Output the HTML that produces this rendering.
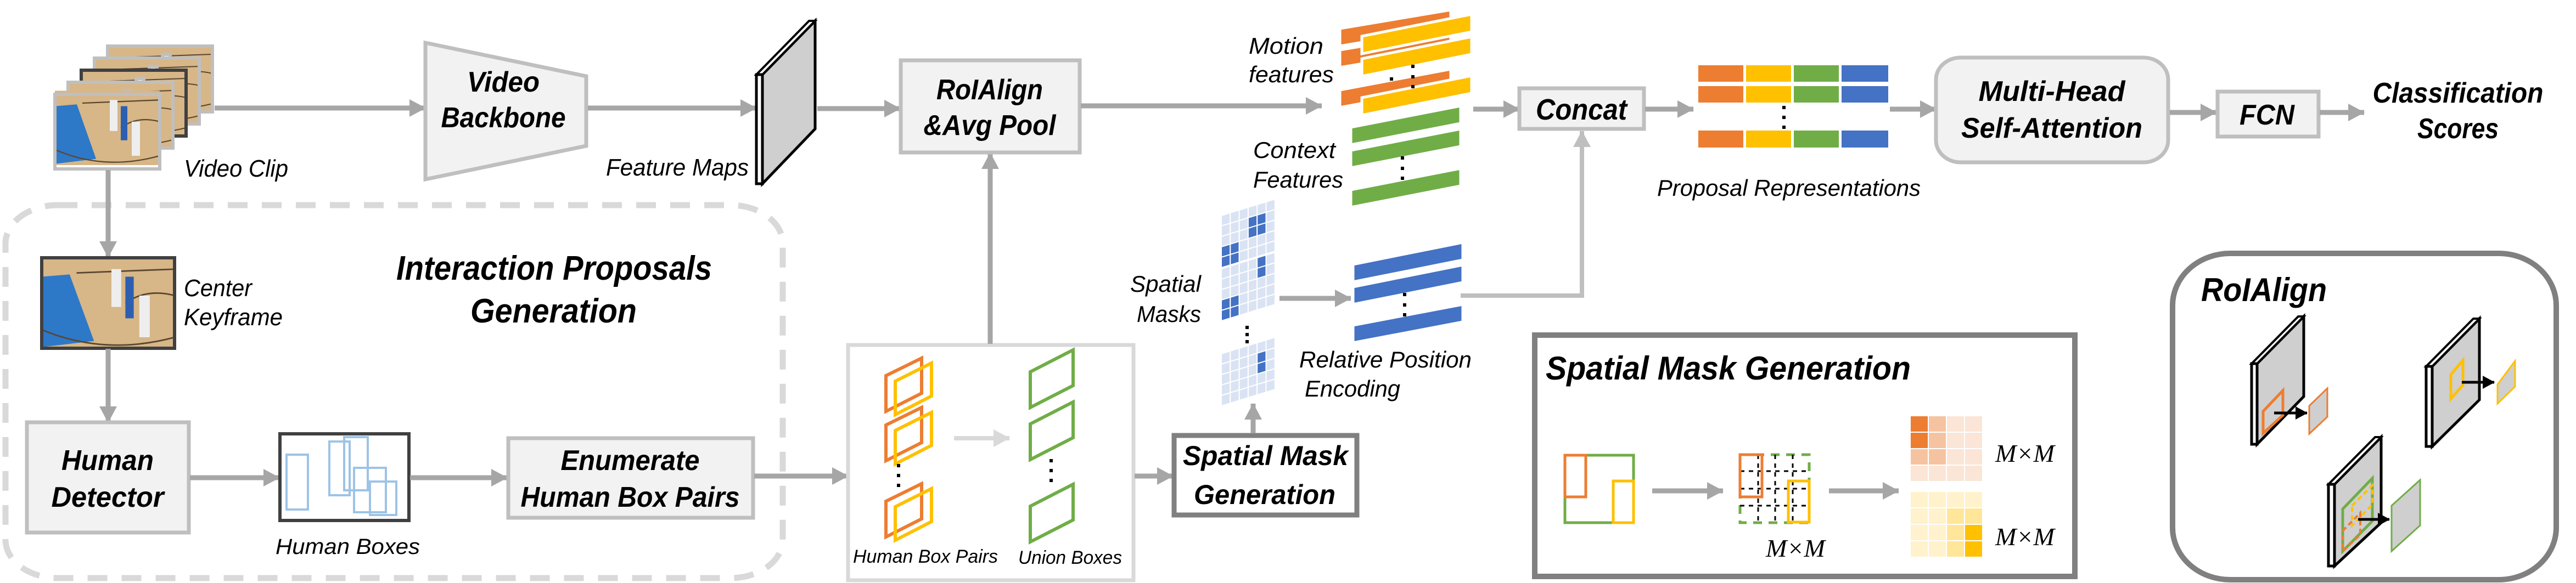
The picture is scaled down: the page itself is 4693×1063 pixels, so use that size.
<!DOCTYPE html>
<html><head><meta charset="utf-8"><style>
html,body{margin:0;padding:0;background:#fff;}
svg{display:block;}
text{font-family:"Liberation Sans",sans-serif;}
.b{font-weight:bold;font-style:italic;}
.i{font-style:italic;}
.m{font-family:"Liberation Serif",serif;font-style:italic;}
</style></head><body>
<svg width="4693" height="1063" viewBox="0 0 4693 1063" xmlns="http://www.w3.org/2000/svg">
<defs>
<marker id="a" markerUnits="userSpaceOnUse" markerWidth="30" markerHeight="32" refX="29" refY="16" orient="auto"><path d="M0,0 L30,16 L0,32 z" fill="#a6a6a6"/></marker>
<marker id="al" markerUnits="userSpaceOnUse" markerWidth="30" markerHeight="32" refX="29" refY="16" orient="auto"><path d="M0,0 L30,16 L0,32 z" fill="#d9d9d9"/></marker>
<marker id="ag" markerUnits="userSpaceOnUse" markerWidth="30" markerHeight="32" refX="29" refY="16" orient="auto"><path d="M0,0 L30,16 L0,32 z" fill="#bfbfbf"/></marker>
<marker id="ak" markerUnits="userSpaceOnUse" markerWidth="22" markerHeight="24" refX="21" refY="12" orient="auto"><path d="M0,0 L22,12 L0,24 z" fill="#000"/></marker>
<g id="frame">
<rect x="0" y="0" width="191" height="120" fill="#d7b687"/>
<polygon points="0,25 40,22 75,110 0,118" fill="#2e78c8"/>
<path d="M0,95 Q90,130 191,105 M50,20 L191,15 M120,60 Q150,40 191,50" stroke="#5a4630" stroke-width="2" fill="none"/>
<rect x="100" y="15" width="14" height="50" fill="#eee"/><rect x="120" y="25" width="12" height="55" fill="#2d5fb0"/><rect x="140" y="50" width="15" height="55" fill="#eee"/>
</g>
</defs>

<!-- dashed region -->
<rect x="10" y="374" width="1416" height="680" rx="95" ry="70" fill="none" stroke="#d9d9d9" stroke-width="11" stroke-dasharray="36,26"/>

<!-- video clip frames -->
<g stroke="#bfbfbf" stroke-width="6">
<use href="#frame" x="196" y="84"/><rect x="196" y="84" width="191" height="120" fill="none"/>
<use href="#frame" x="172" y="106"/><rect x="172" y="106" width="191" height="120" fill="none"/>
<use href="#frame" x="148" y="128"/><rect x="148" y="128" width="191" height="120" fill="none" stroke="#404040"/>
<use href="#frame" x="124" y="150"/><rect x="124" y="150" width="191" height="120" fill="none"/>
<use href="#frame" x="100" y="172"/><rect x="100" y="172" width="191" height="136" fill="none"/>
</g>
<use href="#frame" x="100" y="172" transform="translate(0,-29) scale(1,1.13) translate(0,0)"/>
<rect x="100" y="172" width="191" height="136" fill="none" stroke="#bfbfbf" stroke-width="6"/>
<text x="335" y="322" class="i" font-size="44" textLength="190" lengthAdjust="spacingAndGlyphs">Video Clip</text>

<line x1="391" y1="197" x2="775" y2="197" stroke="#a6a6a6" stroke-width="9" marker-end="url(#a)"/>
<polygon points="775,78 1068,139 1068,266 775,327" fill="#f2f2f2" stroke="#bfbfbf" stroke-width="7"/>
<text x="917" y="167" class="b" font-size="52" text-anchor="middle" textLength="132" lengthAdjust="spacingAndGlyphs">Video</text>
<text x="917" y="232" class="b" font-size="52" text-anchor="middle" textLength="227" lengthAdjust="spacingAndGlyphs">Backbone</text>
<line x1="1071" y1="197" x2="1378" y2="197" stroke="#a6a6a6" stroke-width="9" marker-end="url(#a)"/>
<!-- feature map -->
<polygon points="1389,136 1485,38 1485,235 1389,335" fill="#cfcfcf" stroke="#000" stroke-width="5"/>
<polygon points="1378,136 1389,136 1485,38 1474,38" fill="#fff" stroke="#000" stroke-width="4"/>
<rect x="1378" y="136" width="11" height="199" fill="#fff" stroke="#000" stroke-width="5"/>
<text x="1364" y="320" class="i" font-size="44" text-anchor="end" textLength="260" lengthAdjust="spacingAndGlyphs">Feature Maps</text>
<line x1="1489" y1="198" x2="1640" y2="198" stroke="#a6a6a6" stroke-width="9" marker-end="url(#a)"/>

<!-- vertical arrows left -->
<line x1="197" y1="310" x2="197" y2="469" stroke="#a6a6a6" stroke-width="9" marker-end="url(#a)"/>
<use href="#frame" x="76" y="470" transform="translate(76,470) scale(1.27,1.38) translate(-76,-470)"/>
<rect x="76" y="470" width="242" height="165" fill="none" stroke="#404040" stroke-width="6"/>
<text x="335" y="540" class="i" font-size="44" textLength="124" lengthAdjust="spacingAndGlyphs">Center</text>
<text x="335" y="593" class="i" font-size="44" textLength="180" lengthAdjust="spacingAndGlyphs">Keyframe</text>
<text x="722" y="510" class="b" font-size="62" textLength="575" lengthAdjust="spacingAndGlyphs">Interaction Proposals</text>
<text x="857" y="588" class="b" font-size="62" textLength="303" lengthAdjust="spacingAndGlyphs">Generation</text>
<line x1="197" y1="636" x2="197" y2="770" stroke="#a6a6a6" stroke-width="9" marker-end="url(#a)"/>

<rect x="49" y="770" width="295" height="201" fill="#f2f2f2" stroke="#bfbfbf" stroke-width="7"/>
<text x="196" y="857" class="b" font-size="52" text-anchor="middle" textLength="168" lengthAdjust="spacingAndGlyphs">Human</text>
<text x="196" y="924" class="b" font-size="52" text-anchor="middle" textLength="205" lengthAdjust="spacingAndGlyphs">Detector</text>
<line x1="346" y1="871" x2="509" y2="871" stroke="#a6a6a6" stroke-width="9" marker-end="url(#a)"/>
<rect x="510" y="791" width="235" height="158" fill="#fff" stroke="#404040" stroke-width="6"/>
<g fill="none" stroke="#9dc3e6" stroke-width="4">
<rect x="522" y="829" width="39" height="100"/><rect x="600" y="805" width="37" height="98"/><rect x="627" y="797" width="43" height="97"/><rect x="645" y="853" width="58" height="81"/><rect x="674" y="878" width="48" height="61"/>
</g>
<text x="502" y="1010" class="i" font-size="40" textLength="263" lengthAdjust="spacingAndGlyphs">Human Boxes</text>
<line x1="747" y1="871" x2="924" y2="871" stroke="#a6a6a6" stroke-width="9" marker-end="url(#a)"/>
<rect x="926" y="799" width="446" height="145" fill="#f2f2f2" stroke="#bfbfbf" stroke-width="7"/>
<text x="1148" y="857" class="b" font-size="52" text-anchor="middle" textLength="253" lengthAdjust="spacingAndGlyphs">Enumerate</text>
<text x="1148" y="924" class="b" font-size="52" text-anchor="middle" textLength="399" lengthAdjust="spacingAndGlyphs">Human Box Pairs</text>
<line x1="1374" y1="868" x2="1545" y2="868" stroke="#a6a6a6" stroke-width="9" marker-end="url(#a)"/>

<!-- union area -->
<rect x="1545" y="629" width="520" height="429" fill="#fff" stroke="#d9d9d9" stroke-width="7"/>
<g fill="none" stroke-width="6">
<g><polygon points="1614,685 1679,653 1679,717 1614,750" stroke="#ed7d31"/><polygon points="1631,695 1697,662 1697,722 1631,756" stroke="#ffc000"/></g>
<g transform="translate(0,90)"><polygon points="1614,685 1679,653 1679,717 1614,750" stroke="#ed7d31"/><polygon points="1631,695 1697,662 1697,722 1631,756" stroke="#ffc000"/></g>
<g transform="translate(0,229)"><polygon points="1614,685 1679,653 1679,717 1614,750" stroke="#ed7d31"/><polygon points="1631,695 1697,662 1697,722 1631,756" stroke="#ffc000"/></g>
<polygon points="1877,678 1955,638 1955,703 1877,743" stroke="#70ad47"/>
<polygon points="1877,773 1955,733 1955,798 1877,838" stroke="#70ad47"/>
<polygon points="1877,923 1955,883 1955,948 1877,988" stroke="#70ad47"/>
</g>
<g fill="#000"><rect x="1634" y="846" width="6" height="6"/><rect x="1634" y="864" width="6" height="6"/><rect x="1634" y="882" width="6" height="6"/>
<rect x="1912" y="837" width="6" height="6"/><rect x="1912" y="855" width="6" height="6"/><rect x="1912" y="873" width="6" height="6"/></g>
<line x1="1738" y1="799" x2="1839" y2="799" stroke="#d9d9d9" stroke-width="8" marker-end="url(#al)"/>
<text x="1554" y="1026" class="i" font-size="34" textLength="264" lengthAdjust="spacingAndGlyphs">Human Box Pairs</text>
<text x="1855" y="1028" class="i" font-size="34" textLength="189" lengthAdjust="spacingAndGlyphs">Union Boxes</text>
<line x1="1804" y1="627" x2="1804" y2="279" stroke="#a6a6a6" stroke-width="9" marker-end="url(#a)"/>

<!-- RoIAlign box -->
<rect x="1641" y="110" width="326" height="168" fill="#f2f2f2" stroke="#bfbfbf" stroke-width="7"/>
<text x="1803" y="181" class="b" font-size="52" text-anchor="middle" textLength="194" lengthAdjust="spacingAndGlyphs">RoIAlign</text>
<text x="1803" y="246" class="b" font-size="52" text-anchor="middle" textLength="241" lengthAdjust="spacingAndGlyphs">&amp;Avg Pool</text>
<line x1="1969" y1="193" x2="2408" y2="193" stroke="#a6a6a6" stroke-width="9" marker-end="url(#a)"/>

<!-- motion bars -->
<g stroke="#fff" stroke-width="5">
<polygon points="2441,52 2643,18 2643,50 2441,84" fill="#ed7d31"/>
<polygon points="2441,91 2643,57 2643,89 2441,123" fill="#ed7d31"/>
<polygon points="2481,66 2681,26 2681,58 2481,98" fill="#ffc000"/>
<polygon points="2481,107 2681,67 2681,99 2481,139" fill="#ffc000"/>
<polygon points="2441,164 2643,126 2643,158 2441,196" fill="#ed7d31"/>
<polygon points="2481,178 2681,138 2681,170 2481,210" fill="#ffc000"/>
<polygon points="2461,232 2661,193 2661,225 2461,264" fill="#70ad47"/>
<polygon points="2461,274 2661,235 2661,267 2461,306" fill="#70ad47"/>
<polygon points="2461,346 2661,307 2661,339 2461,378" fill="#70ad47"/>
<polygon points="2465,482 2665,442 2665,474 2465,514" fill="#4472c4"/>
<polygon points="2465,523 2665,483 2665,515 2465,555" fill="#4472c4"/>
<polygon points="2465,593 2665,555 2665,587 2465,625" fill="#4472c4"/>
</g>
<g fill="#000">
<rect x="2571" y="118" width="6" height="6"/><rect x="2571" y="137" width="6" height="6"/><rect x="2571" y="155" width="6" height="6"/><rect x="2532" y="141" width="6" height="6"/>
<rect x="2552" y="285" width="6" height="6"/><rect x="2552" y="304" width="6" height="6"/><rect x="2552" y="322" width="6" height="6"/>
<rect x="2556" y="534" width="6" height="6"/><rect x="2556" y="553" width="6" height="6"/><rect x="2556" y="571" width="6" height="6"/>
</g>
<text x="2411" y="98" class="i" font-size="42" text-anchor="end" textLength="136" lengthAdjust="spacingAndGlyphs">Motion</text>
<text x="2430" y="150" class="i" font-size="42" text-anchor="end" textLength="155" lengthAdjust="spacingAndGlyphs">features</text>
<text x="2433" y="288" class="i" font-size="42" text-anchor="end" textLength="150" lengthAdjust="spacingAndGlyphs">Context</text>
<text x="2447" y="342" class="i" font-size="42" text-anchor="end" textLength="164" lengthAdjust="spacingAndGlyphs">Features</text>

<!-- concat -->
<line x1="2684" y1="199" x2="2768" y2="199" stroke="#a6a6a6" stroke-width="9" marker-end="url(#a)"/>
<rect x="2768" y="161" width="227" height="74" fill="#f2f2f2" stroke="#bfbfbf" stroke-width="7"/>
<text x="2798" y="218" class="b" font-size="54" textLength="166" lengthAdjust="spacingAndGlyphs">Concat</text>
<line x1="2997" y1="199" x2="3085" y2="199" stroke="#a6a6a6" stroke-width="9" marker-end="url(#a)"/>
<polyline points="2661,539 2882,539 2882,239" fill="none" stroke="#bfbfbf" stroke-width="8" marker-end="url(#ag)"/>

<!-- spatial masks -->
<g id="sm1">
<g transform="translate(2225,393) skewY(-17)">
<g fill="#dae3f3" stroke="#fff" stroke-width="2">
<rect x="0" y="0" width="16.3" height="19"/><rect x="16.3" y="0" width="16.3" height="19"/><rect x="32.6" y="0" width="16.3" height="19"/><rect x="48.9" y="0" width="16.3" height="19"/><rect x="65.2" y="0" width="16.3" height="19"/><rect x="81.5" y="0" width="16.3" height="19"/>
<rect x="0" y="19" width="16.3" height="19"/><rect x="16.3" y="19" width="16.3" height="19"/><rect x="32.6" y="19" width="16.3" height="19"/><rect x="48.9" y="19" width="16.3" height="19" fill="#4472c4"/><rect x="65.2" y="19" width="16.3" height="19" fill="#4472c4"/><rect x="81.5" y="19" width="16.3" height="19"/>
<rect x="0" y="38" width="16.3" height="19"/><rect x="16.3" y="38" width="16.3" height="19"/><rect x="32.6" y="38" width="16.3" height="19"/><rect x="48.9" y="38" width="16.3" height="19" fill="#4472c4"/><rect x="65.2" y="38" width="16.3" height="19" fill="#4472c4"/><rect x="81.5" y="38" width="16.3" height="19"/>
<rect x="0" y="57" width="16.3" height="19" fill="#4472c4"/><rect x="16.3" y="57" width="16.3" height="19" fill="#4472c4"/><rect x="32.6" y="57" width="16.3" height="19"/><rect x="48.9" y="57" width="16.3" height="19"/><rect x="65.2" y="57" width="16.3" height="19"/><rect x="81.5" y="57" width="16.3" height="19"/>
<rect x="0" y="76" width="16.3" height="19" fill="#4472c4"/><rect x="16.3" y="76" width="16.3" height="19" fill="#4472c4"/><rect x="32.6" y="76" width="16.3" height="19"/><rect x="48.9" y="76" width="16.3" height="19"/><rect x="65.2" y="76" width="16.3" height="19"/><rect x="81.5" y="76" width="16.3" height="19"/>
</g></g></g>
<g transform="translate(2225,490) skewY(-17)">
<g fill="#dae3f3" stroke="#fff" stroke-width="2">
<rect x="0" y="0" width="16.3" height="19"/><rect x="16.3" y="0" width="16.3" height="19"/><rect x="32.6" y="0" width="16.3" height="19"/><rect x="48.9" y="0" width="16.3" height="19"/><rect x="65.2" y="0" width="16.3" height="19" fill="#4472c4"/><rect x="81.5" y="0" width="16.3" height="19"/>
<rect x="0" y="19" width="16.3" height="19"/><rect x="16.3" y="19" width="16.3" height="19"/><rect x="32.6" y="19" width="16.3" height="19"/><rect x="48.9" y="19" width="16.3" height="19"/><rect x="65.2" y="19" width="16.3" height="19" fill="#4472c4"/><rect x="81.5" y="19" width="16.3" height="19"/>
<rect x="0" y="38" width="16.3" height="19"/><rect x="16.3" y="38" width="16.3" height="19"/><rect x="32.6" y="38" width="16.3" height="19"/><rect x="48.9" y="38" width="16.3" height="19"/><rect x="65.2" y="38" width="16.3" height="19"/><rect x="81.5" y="38" width="16.3" height="19"/>
<rect x="0" y="57" width="16.3" height="19" fill="#4472c4"/><rect x="16.3" y="57" width="16.3" height="19" fill="#4472c4"/><rect x="32.6" y="57" width="16.3" height="19"/><rect x="48.9" y="57" width="16.3" height="19"/><rect x="65.2" y="57" width="16.3" height="19"/><rect x="81.5" y="57" width="16.3" height="19"/>
<rect x="0" y="76" width="16.3" height="19" fill="#4472c4"/><rect x="16.3" y="76" width="16.3" height="19" fill="#4472c4"/><rect x="32.6" y="76" width="16.3" height="19"/><rect x="48.9" y="76" width="16.3" height="19"/><rect x="65.2" y="76" width="16.3" height="19"/><rect x="81.5" y="76" width="16.3" height="19"/>
</g></g>
<g transform="translate(2225,645) skewY(-17)">
<g fill="#dae3f3" stroke="#fff" stroke-width="2">
<rect x="0" y="0" width="16.3" height="19"/><rect x="16.3" y="0" width="16.3" height="19"/><rect x="32.6" y="0" width="16.3" height="19"/><rect x="48.9" y="0" width="16.3" height="19"/><rect x="65.2" y="0" width="16.3" height="19"/><rect x="81.5" y="0" width="16.3" height="19"/>
<rect x="0" y="19" width="16.3" height="19"/><rect x="16.3" y="19" width="16.3" height="19"/><rect x="32.6" y="19" width="16.3" height="19"/><rect x="48.9" y="19" width="16.3" height="19"/><rect x="65.2" y="19" width="16.3" height="19" fill="#4472c4"/><rect x="81.5" y="19" width="16.3" height="19"/>
<rect x="0" y="38" width="16.3" height="19"/><rect x="16.3" y="38" width="16.3" height="19"/><rect x="32.6" y="38" width="16.3" height="19"/><rect x="48.9" y="38" width="16.3" height="19"/><rect x="65.2" y="38" width="16.3" height="19" fill="#4472c4"/><rect x="81.5" y="38" width="16.3" height="19"/>
<rect x="0" y="57" width="16.3" height="19"/><rect x="16.3" y="57" width="16.3" height="19"/><rect x="32.6" y="57" width="16.3" height="19"/><rect x="48.9" y="57" width="16.3" height="19"/><rect x="65.2" y="57" width="16.3" height="19"/><rect x="81.5" y="57" width="16.3" height="19"/>
<rect x="0" y="76" width="16.3" height="19"/><rect x="16.3" y="76" width="16.3" height="19"/><rect x="32.6" y="76" width="16.3" height="19"/><rect x="48.9" y="76" width="16.3" height="19"/><rect x="65.2" y="76" width="16.3" height="19"/><rect x="81.5" y="76" width="16.3" height="19"/>
</g></g>
<g fill="#000"><rect x="2269" y="594" width="6" height="6"/><rect x="2269" y="607" width="6" height="6"/><rect x="2269" y="620" width="6" height="6"/></g>
<text x="2188" y="532" class="i" font-size="42" text-anchor="end" textLength="129" lengthAdjust="spacingAndGlyphs">Spatial</text>
<text x="2188" y="587" class="i" font-size="42" text-anchor="end" textLength="117" lengthAdjust="spacingAndGlyphs">Masks</text>
<line x1="2331" y1="544" x2="2461" y2="544" stroke="#a6a6a6" stroke-width="9" marker-end="url(#a)"/>
<text x="2367" y="670" class="i" font-size="42" textLength="314" lengthAdjust="spacingAndGlyphs">Relative Position</text>
<text x="2377" y="723" class="i" font-size="42" textLength="174" lengthAdjust="spacingAndGlyphs">Encoding</text>

<!-- SMG small box -->
<line x1="2067" y1="868" x2="2137" y2="868" stroke="#a6a6a6" stroke-width="9" marker-end="url(#a)"/>
<rect x="2139" y="794" width="333" height="145" fill="#fff" stroke="#808080" stroke-width="9"/>
<text x="2155" y="848" class="b" font-size="50" textLength="301" lengthAdjust="spacingAndGlyphs">Spatial Mask</text>
<text x="2175" y="919" class="b" font-size="50" textLength="258" lengthAdjust="spacingAndGlyphs">Generation</text>
<line x1="2283" y1="790" x2="2283" y2="736" stroke="#a6a6a6" stroke-width="9" marker-end="url(#a)"/>

<!-- SMG big box -->
<rect x="2796" y="611" width="984" height="440" fill="#fff" stroke="#808080" stroke-width="10"/>
<text x="2816" y="692" class="b" font-size="60" textLength="665" lengthAdjust="spacingAndGlyphs">Spatial Mask Generation</text>
<rect x="2851" y="830" width="125" height="123" fill="none" stroke="#70ad47" stroke-width="5"/>
<rect x="2851" y="830" width="38" height="76" fill="none" stroke="#ed7d31" stroke-width="5"/>
<rect x="2939" y="877" width="37" height="76" fill="#fff" stroke="#ffc000" stroke-width="5"/>
<line x1="3010" y1="895" x2="3139" y2="895" stroke="#a6a6a6" stroke-width="9" marker-end="url(#a)"/>
<rect x="3170" y="829" width="126" height="124" fill="none" stroke="#70ad47" stroke-width="5" stroke-dasharray="16,12"/>
<g stroke="#000" stroke-width="3" stroke-dasharray="8,8">
<line x1="3203" y1="829" x2="3203" y2="953"/><line x1="3234" y1="829" x2="3234" y2="953"/><line x1="3266" y1="829" x2="3266" y2="953"/>
<line x1="3170" y1="859" x2="3296" y2="859"/><line x1="3170" y1="891" x2="3296" y2="891"/><line x1="3170" y1="922" x2="3296" y2="922"/>
</g>
<rect x="3170" y="829" width="40" height="77" fill="none" stroke="#ed7d31" stroke-width="5"/>
<rect x="3258" y="877" width="38" height="75" fill="none" stroke="#ffc000" stroke-width="5"/>
<text x="3217" y="1015" class="m" font-size="46" textLength="108" lengthAdjust="spacingAndGlyphs">M×M</text>
<line x1="3332" y1="895" x2="3459" y2="895" stroke="#a6a6a6" stroke-width="9" marker-end="url(#a)"/>
<g stroke="#fff" stroke-width="2">
<rect x="3480" y="758" width="33" height="30" fill="#ed7d31"/><rect x="3513" y="758" width="33" height="30" fill="#f6c3a0"/><rect x="3546" y="758" width="33" height="30" fill="#fbe5d6"/><rect x="3579" y="758" width="33" height="30" fill="#fbe5d6"/>
<rect x="3480" y="788" width="33" height="30" fill="#ed7d31"/><rect x="3513" y="788" width="33" height="30" fill="#f6c3a0"/><rect x="3546" y="788" width="33" height="30" fill="#fbe5d6"/><rect x="3579" y="788" width="33" height="30" fill="#fbe5d6"/>
<rect x="3480" y="818" width="33" height="30" fill="#f6c3a0"/><rect x="3513" y="818" width="33" height="30" fill="#f6c3a0"/><rect x="3546" y="818" width="33" height="30" fill="#fbe5d6"/><rect x="3579" y="818" width="33" height="30" fill="#fbe5d6"/>
<rect x="3480" y="848" width="33" height="30" fill="#fbe5d6"/><rect x="3513" y="848" width="33" height="30" fill="#fbe5d6"/><rect x="3546" y="848" width="33" height="30" fill="#fbe5d6"/><rect x="3579" y="848" width="33" height="30" fill="#fbe5d6"/>
<rect x="3480" y="896" width="33" height="30" fill="#fff2cc"/><rect x="3513" y="896" width="33" height="30" fill="#fff2cc"/><rect x="3546" y="896" width="33" height="30" fill="#fff2cc"/><rect x="3579" y="896" width="33" height="30" fill="#fff2cc"/>
<rect x="3480" y="926" width="33" height="30" fill="#fff2cc"/><rect x="3513" y="926" width="33" height="30" fill="#fff2cc"/><rect x="3546" y="926" width="33" height="30" fill="#ffe699"/><rect x="3579" y="926" width="33" height="30" fill="#ffe699"/>
<rect x="3480" y="956" width="33" height="30" fill="#fff2cc"/><rect x="3513" y="956" width="33" height="30" fill="#fff2cc"/><rect x="3546" y="956" width="33" height="30" fill="#ffe699"/><rect x="3579" y="956" width="33" height="30" fill="#ffc000"/>
<rect x="3480" y="986" width="33" height="30" fill="#fff2cc"/><rect x="3513" y="986" width="33" height="30" fill="#fff2cc"/><rect x="3546" y="986" width="33" height="30" fill="#ffe699"/><rect x="3579" y="986" width="33" height="30" fill="#ffc000"/>
</g>
<text x="3635" y="842" class="m" font-size="46" textLength="108" lengthAdjust="spacingAndGlyphs">M×M</text>
<text x="3635" y="994" class="m" font-size="46" textLength="108" lengthAdjust="spacingAndGlyphs">M×M</text>

<!-- proposal representations -->
<g>
<rect x="3094" y="119" width="82" height="30" fill="#ed7d31"/><rect x="3181" y="119" width="82" height="30" fill="#ffc000"/><rect x="3268" y="119" width="82" height="30" fill="#70ad47"/><rect x="3355" y="119" width="85" height="30" fill="#4472c4"/>
<rect x="3094" y="157" width="82" height="30" fill="#ed7d31"/><rect x="3181" y="157" width="82" height="30" fill="#ffc000"/><rect x="3268" y="157" width="82" height="30" fill="#70ad47"/><rect x="3355" y="157" width="85" height="30" fill="#4472c4"/>
<rect x="3094" y="238" width="82" height="31" fill="#ed7d31"/><rect x="3181" y="238" width="82" height="31" fill="#ffc000"/><rect x="3268" y="238" width="82" height="31" fill="#70ad47"/><rect x="3355" y="238" width="85" height="31" fill="#4472c4"/>
</g>
<g fill="#000"><rect x="3247" y="193" width="6" height="6"/><rect x="3247" y="211" width="6" height="6"/><rect x="3247" y="229" width="6" height="6"/></g>
<text x="3019" y="357" class="i" font-size="42" textLength="480" lengthAdjust="spacingAndGlyphs">Proposal Representations</text>
<line x1="3443" y1="199" x2="3527" y2="199" stroke="#a6a6a6" stroke-width="9" marker-end="url(#a)"/>
<rect x="3527" y="105" width="423" height="191" rx="45" ry="40" fill="#f2f2f2" stroke="#bfbfbf" stroke-width="7"/>
<text x="3738" y="184" class="b" font-size="52" text-anchor="middle" textLength="267" lengthAdjust="spacingAndGlyphs">Multi-Head</text>
<text x="3738" y="251" class="b" font-size="52" text-anchor="middle" textLength="330" lengthAdjust="spacingAndGlyphs">Self-Attention</text>
<line x1="3953" y1="205" x2="4038" y2="205" stroke="#a6a6a6" stroke-width="9" marker-end="url(#a)"/>
<rect x="4040" y="167" width="184" height="82" fill="#f2f2f2" stroke="#bfbfbf" stroke-width="7"/>
<text x="4080" y="227" class="b" font-size="52" textLength="100" lengthAdjust="spacingAndGlyphs">FCN</text>
<line x1="4226" y1="205" x2="4307" y2="205" stroke="#a6a6a6" stroke-width="9" marker-end="url(#a)"/>
<text x="4478" y="187" class="b" font-size="52" text-anchor="middle" textLength="311" lengthAdjust="spacingAndGlyphs">Classification</text>
<text x="4478" y="252" class="b" font-size="52" text-anchor="middle" textLength="148" lengthAdjust="spacingAndGlyphs">Scores</text>

<!-- RoIAlign inset -->
<rect x="3958" y="462" width="699" height="595" rx="105" ry="95" fill="#fff" stroke="#808080" stroke-width="10"/>
<text x="4010" y="549" class="b" font-size="60" textLength="229" lengthAdjust="spacingAndGlyphs">RoIAlign</text>
<!-- fm1 -->
<polygon points="4112,663 4197,577 4197,723 4112,810" fill="#cfcfcf" stroke="#000" stroke-width="5"/>
<polygon points="4102,663 4112,663 4197,577 4187,577" fill="#fff" stroke="#000" stroke-width="4"/>
<rect x="4102" y="663" width="10" height="147" fill="#fff" stroke="#000" stroke-width="5"/>
<polygon points="4123,750 4159,712 4159,757 4123,790" fill="none" stroke="#ed7d31" stroke-width="5"/>
<polygon points="4207,740 4240,708 4240,760 4207,791" fill="#cfcfcf" stroke="#ed7d31" stroke-width="3"/>
<line x1="4143" y1="753" x2="4203" y2="753" stroke="#000" stroke-width="5" marker-end="url(#ak)"/>
<!-- fm2 -->
<polygon points="4431,668 4517,581 4517,729 4431,814" fill="#cfcfcf" stroke="#000" stroke-width="5"/>
<polygon points="4420,668 4431,668 4517,581 4506,581" fill="#fff" stroke="#000" stroke-width="4"/>
<rect x="4420" y="668" width="11" height="146" fill="#fff" stroke="#000" stroke-width="5"/>
<polygon points="4465,683 4487,657 4487,702 4465,727" fill="none" stroke="#ffc000" stroke-width="5"/>
<polygon points="4550,701 4582,658 4582,705 4550,736" fill="#cfcfcf" stroke="#ffc000" stroke-width="3"/>
<line x1="4485" y1="697" x2="4544" y2="697" stroke="#000" stroke-width="5" marker-end="url(#ak)"/>
<!-- fm3 -->
<polygon points="4253,883 4338,797 4338,953 4253,1032" fill="#cfcfcf" stroke="#000" stroke-width="5"/>
<polygon points="4242,883 4253,883 4338,797 4327,797" fill="#fff" stroke="#000" stroke-width="4"/>
<rect x="4242" y="883" width="11" height="149" fill="#fff" stroke="#000" stroke-width="5"/>
<polygon points="4268,928 4322,872 4322,950 4268,1005" fill="none" stroke="#70ad47" stroke-width="5"/>
<polygon points="4285,922 4322,885 4322,920 4285,958" fill="none" stroke="#ffc000" stroke-width="4" stroke-dasharray="9,6"/>
<polygon points="4268,968 4300,935 4300,975 4268,1005" fill="none" stroke="#ed7d31" stroke-width="4" stroke-dasharray="9,6"/>
<polygon points="4357,922 4409,875 4409,958 4357,1005" fill="#cfcfcf" stroke="#70ad47" stroke-width="3"/>
<line x1="4296" y1="947" x2="4353" y2="947" stroke="#000" stroke-width="5" marker-end="url(#ak)"/>
</svg>
</body></html>
